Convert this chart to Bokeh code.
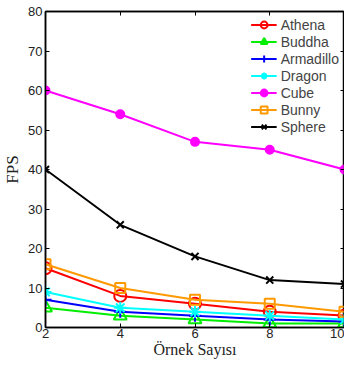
from bokeh.plotting import figure
from bokeh.models import LinearAxis, FixedTicker, Range1d, CustomJSTickFormatter
from bokeh.embed import file_html
from bokeh.resources import INLINE

samples = [2, 4, 6, 8, 10]
athena = [15, 8, 6, 4, 3]
buddha = [5, 3, 2, 1, 1]
armadillo = [7, 4, 3, 2, 1.5]
dragon = [9, 5, 4, 3, 2]
cube = [60, 54, 47, 45, 40]
bunny = [16, 10, 7, 6, 4]
sphere = [40, 26, 18, 12, 11]

x_ticks = [2, 4, 6, 8, 10]
y_ticks = [0, 10, 20, 30, 40, 50, 60, 70, 80]

p = figure(width=344, height=360, output_backend="svg", toolbar_location=None,
           x_range=Range1d(2, 10), y_range=Range1d(0, 80),
           min_border_left=0, min_border_right=0, min_border_top=11, min_border_bottom=0)
p.xgrid.visible = False
p.ygrid.visible = False
p.outline_line_color = "black"
p.outline_line_width = 1.5
p.outline_line_alpha = 1

series = [
    ("Athena", athena, "#ff0000", "circle", 12, False),
    ("Buddha", buddha, "#00ee00", "triangle", 13, False),
    ("Armadillo", armadillo, "#0000ff", "cross", 12, False),
    ("Dragon", dragon, "#00ffff", "asterisk", 12, False),
    ("Cube", cube, "#ff00ff", "circle", 8, True),
    ("Bunny", bunny, "#ff9900", "square", 10, False),
    ("Sphere", sphere, "#000000", "x", 10, False),
]
for name, ys, col, mk, sz, filled in series:
    p.line(samples, ys, line_color=col, line_width=2, legend_label=name)
    p.scatter(samples, ys, marker=mk, size=sz, line_color=col, line_width=2,
              fill_color=col if filled else None, legend_label=name)

for ax in (p.xaxis[0], p.yaxis[0]):
    ax.major_tick_in = 4
    ax.major_tick_out = 0
    ax.minor_tick_line_color = None
    ax.axis_line_width = 1.5
    ax.major_label_text_font = "Liberation Sans"
    ax.major_label_text_font_size = "13px"
    ax.major_label_text_color = "#222222"
    ax.axis_label_text_font = "Liberation Serif"
    ax.axis_label_text_font_size = "17px"
    ax.axis_label_text_font_style = "normal"
    ax.axis_label_text_color = "#222222"
p.xaxis[0].axis_label_text_font_size = "16px"
p.xaxis[0].ticker = FixedTicker(ticks=x_ticks)
p.yaxis[0].ticker = FixedTicker(ticks=y_ticks)
p.xaxis[0].axis_label = "Örnek Sayısı"
p.yaxis[0].axis_label = "FPS"
p.xaxis[0].major_label_standoff = 1
p.yaxis[0].major_label_standoff = 3
p.xaxis[0].axis_label_standoff = 0
p.yaxis[0].axis_label_standoff = 3

blank = CustomJSTickFormatter(code="return ''")
top = LinearAxis(ticker=FixedTicker(ticks=x_ticks), formatter=blank,
                 major_tick_in=4, major_tick_out=0, minor_tick_line_color=None,
                 major_label_standoff=0, major_label_text_font_size="1px",
                 axis_line_width=1.5)
right = LinearAxis(ticker=FixedTicker(ticks=y_ticks), formatter=blank,
                   major_tick_in=4, major_tick_out=0, minor_tick_line_color=None,
                   major_label_standoff=0, major_label_text_font_size="1px",
                   axis_line_width=1.5)
p.add_layout(top, "above")
p.add_layout(right, "right")

p.legend.location = "top_right"
p.legend.border_line_alpha = 0
p.legend.background_fill_alpha = 1
p.legend.label_text_font = "Liberation Sans"
p.legend.label_text_font_size = "14px"
p.legend.label_height = 17
p.legend.glyph_height = 17
p.legend.glyph_width = 26
p.legend.spacing = 0
p.legend.padding = 0
p.legend.margin = 5
p.legend.label_standoff = 4

open("out.html", "w").write(file_html(p, INLINE))
